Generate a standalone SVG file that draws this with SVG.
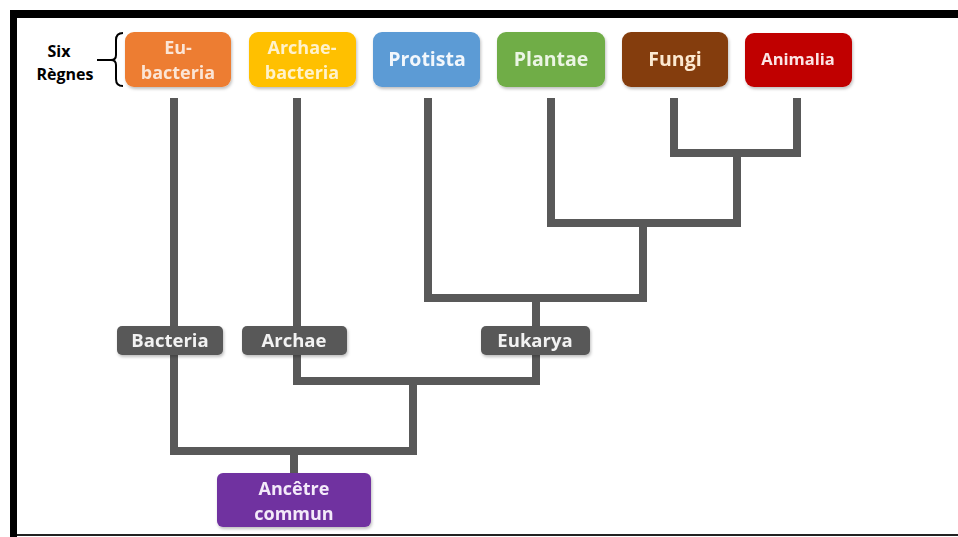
<svg xmlns="http://www.w3.org/2000/svg" width="958" height="537" viewBox="0 0 958 537">
<defs>
<filter id="sh" x="-10%" y="-10%" width="130%" height="140%">
<feDropShadow dx="1" dy="2" stdDeviation="1.5" flood-color="#000" flood-opacity="0.25"/>
</filter>
<style>
.t{font-family:"Open Sans","Liberation Sans",sans-serif;font-weight:bold;text-anchor:middle}
.big{font-size:19.5px}
.two{font-size:18px}
.lbl{font-size:18.5px;fill:#f2f2f2}
.k{font-family:"Open Sans","Liberation Sans",sans-serif;font-weight:bold;font-size:16px;fill:#000;text-anchor:middle}
.ln{stroke:#595959;stroke-width:8;fill:none;stroke-linejoin:miter;stroke-linecap:butt}
</style>
</defs>
<rect x="0" y="0" width="958" height="537" fill="#fff"/>
<g id="frame">
<rect x="10" y="10" width="948" height="8" fill="#000"/>
<rect x="10" y="10" width="7" height="527" fill="#000"/>
<rect x="17" y="534" width="941" height="2" fill="#222"/>
</g>
<g id="connectors" class="ln">
<path d="M174,98 V451 H413 V381"/>
<path d="M297,98 V381 H536 V298"/>
<path d="M428,98 V298 H643 V223"/>
<path d="M551,98 V223 H737 V153"/>
<path d="M674,98 V153 H797 V98"/>
<path d="M294,451 V473"/>
</g>
<g id="six-regnes">
<text class="k" x="59" y="57">Six</text>
<text class="k" x="65" y="80">Règnes</text>
<path d="M123,33 Q116,33 116,40 V55 Q116,60 111,60 H97 M111,60 Q116,60 116,65 V79 Q116,86 123,86" fill="none" stroke="#000" stroke-width="2"/>
</g>
<g id="eubacteria" filter="url(#sh)">
<rect x="125" y="32" width="106" height="55" rx="9" fill="#ED7D31"/>
<text class="t two" x="178" y="53.5" fill="#FBE5D6">Eu-</text>
<text class="t two" x="178" y="78.5" fill="#FBE5D6">bacteria</text>
</g>
<g id="archaebacteria" filter="url(#sh)">
<rect x="249" y="32" width="107" height="55" rx="9" fill="#FFC000"/>
<text class="t two" x="302" y="53.5" fill="#FFF2CC">Archae-</text>
<text class="t two" x="302" y="78.5" fill="#FFF2CC">bacteria</text>
</g>
<g id="protista" filter="url(#sh)">
<rect x="373" y="32" width="107" height="55" rx="9" fill="#5B9BD5"/>
<text class="t big" x="427" y="66" fill="#F2F7FC">Protista</text>
</g>
<g id="plantae" filter="url(#sh)">
<rect x="497" y="32" width="108" height="55" rx="9" fill="#70AD47"/>
<text class="t big" x="551" y="66" fill="#EBF5E4">Plantae</text>
</g>
<g id="fungi" filter="url(#sh)">
<rect x="622" y="32" width="106" height="55" rx="9" fill="#843C0C"/>
<text class="t big" x="675" y="66" fill="#FCE9D0">Fungi</text>
</g>
<g id="animalia" filter="url(#sh)">
<rect x="745" y="33" width="107" height="54" rx="9" fill="#C00000"/>
<text class="t" style="font-size:16.5px" x="798" y="65" fill="#FBE4E4">Animalia</text>
</g>
<g id="bacteria" filter="url(#sh)">
<rect x="117" y="326" width="106" height="29" rx="5" fill="#595959"/>
<text class="t lbl" x="170" y="347">Bacteria</text>
</g>
<g id="archae" filter="url(#sh)">
<rect x="242" y="326" width="105" height="29" rx="5" fill="#595959"/>
<text class="t lbl" x="294" y="347">Archae</text>
</g>
<g id="eukarya" filter="url(#sh)">
<rect x="481" y="326" width="109" height="29" rx="5" fill="#595959"/>
<text class="t lbl" x="535" y="347">Eukarya</text>
</g>
<g id="ancetre" filter="url(#sh)">
<rect x="217" y="473" width="154" height="54" rx="6" fill="#7030A0"/>
<text class="t two" x="294" y="494.5" fill="#F3EAF9">Ancêtre</text>
<text class="t two" x="294" y="519.5" fill="#F3EAF9">commun</text>
</g>
</svg>
